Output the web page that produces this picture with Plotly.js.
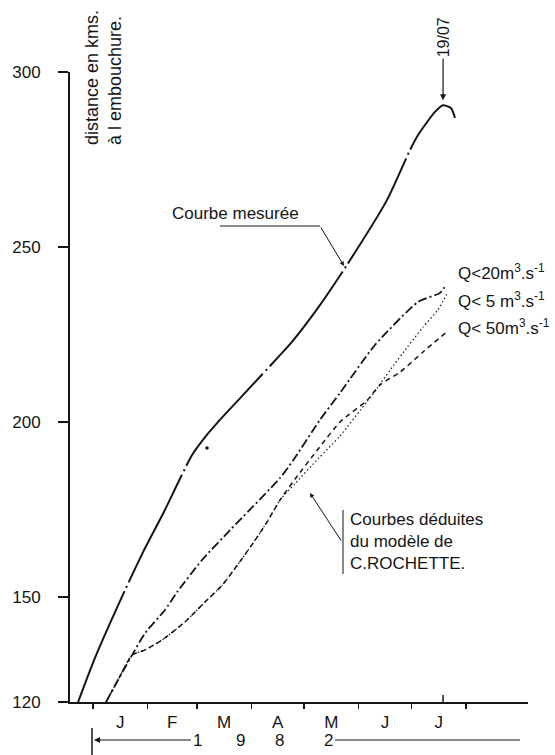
<!DOCTYPE html>
<html>
<head>
<meta charset="utf-8">
<script src="https://cdn.plot.ly/plotly-3.0.1.min.js"></script>
<style>
  html, body { margin: 0; padding: 0; background: #fff; }
  #chart { width: 555px; height: 755px; }
</style>
</head>
<body>
<div id="chart"></div>
<script>
// Days are counted from 1 January 1982 (day 0).
const monthStartDays = [0, 31, 59, 90, 120, 151, 181, 212];
const monthLetters = ['J', 'F', 'M', 'A', 'M', 'J', 'J'];
const distanceTicks = [120, 150, 200, 250, 300];
const yearDigits = ['1', '9', '8', '2'];

// Courbe mesurée (distance en km à l'embouchure)
const mesureeJour = [-8.5, 1.1, 18.2, 28.5, 40, 56.3, 63.7, 70.5, 84.7, 106.3, 113.1, 129, 144.4, 167.1, 180.2, 184.8, 194.4, 199, 203.5, 205.8];
const mesureeKm   = [120, 132.6, 152, 162.9, 174, 190.6, 195.7, 199.7, 207.4, 219.1, 222.9, 233.4, 244.9, 263.4, 277.7, 282, 288.6, 290.5, 289.7, 286.9];

// Point isolé près de la courbe mesurée
const pointJour = [64.8];
const pointKm = [192.6];

// Courbes du modèle
const q20Jour = [7.4, 14.2, 22.2, 29.6, 40.9, 47.8, 62, 77.9, 106.3, 113.7, 129, 140.4, 160.3, 184.8, 197.3, 200.7];
const q20Km   = [120, 126.3, 133.4, 139.7, 146.3, 151.4, 160.6, 169.1, 184, 189, 200.6, 208.3, 222, 234.3, 236.9, 239.1];

const q5Jour = [7.4, 14.2, 22.2, 29.6, 39.2, 52.3, 63.7, 73.3, 81.9, 91, 99, 106.3, 115, 128, 140.4, 156, 161.6, 169, 178.7, 187.6, 196, 201.5];
const q5Km   = [120, 126.3, 133.4, 134.9, 137.7, 142.9, 148.6, 153.3, 159, 165.4, 171.5, 177.7, 182.5, 189.5, 196, 206, 209.7, 214.9, 221.4, 227.1, 232, 236.9];

const q50Jour = [7.4, 14.2, 22.2, 29.6, 39.2, 52.3, 63.7, 73.3, 81.9, 91, 99, 106.3, 115, 128, 140.4, 156, 163.2, 174.7, 187.6, 200.3];
const q50Km   = [120, 126.3, 133.4, 134.9, 137.7, 142.9, 148.6, 153.3, 159, 165.4, 171.5, 177.7, 183.8, 192.3, 200, 206.3, 210.6, 214.3, 220, 225.4];

const qLabels = [
  'Q&lt;20m<sup>3</sup>.s<sup>-1</sup>',
  'Q&lt; 5 m<sup>3</sup>.s<sup>-1</sup>',
  'Q&lt; 50m<sup>3</sup>.s<sup>-1</sup>'
];

// ---- page geometry ----
const W = 555, H = 755, ML = 70, MR = 27, MT = 72, MB = 53;
const PW = W - ML - MR, PH = H - MT - MB;
const px = x => (x - ML) / PW;          // pixel column -> paper x
const py = y => (H - MB - y) / PH;      // pixel row -> paper y

const INK = '#151515';
const FONT = "'Liberation Sans', Arial, Helvetica, sans-serif";
const xRange = [-13.1, 247.3];

const monthMid = monthLetters.map((_, i) => (monthStartDays[i] + monthStartDays[i + 1]) / 2);

// peak of the measured curve (19/07)
const peakIdx = mesureeKm.indexOf(Math.max(...mesureeKm));
const peakDay = mesureeJour[peakIdx];
const peakKm = mesureeKm[peakIdx];

const traces = [
  { x: mesureeJour, y: mesureeKm, mode: 'lines', name: 'Courbe mesurée',
    line: { color: INK, width: 2, dash: '120px,4px,2px,4px', shape: 'spline', smoothing: 0.6 } },
  { x: q20Jour, y: q20Km, mode: 'lines', name: 'Q<20',
    line: { color: INK, width: 1.8, dash: '9px,3px,2px,3px', shape: 'spline', smoothing: 0.6 } },
  { x: q5Jour, y: q5Km, mode: 'lines', name: 'Q<5',
    line: { color: INK, width: 1.2, dash: '1.5px,2.5px', shape: 'spline', smoothing: 0.6 } },
  { x: q50Jour, y: q50Km, mode: 'lines', name: 'Q<50',
    line: { color: INK, width: 1.5, dash: '5px,4px', shape: 'spline', smoothing: 0.6 } },
  { x: pointJour, y: pointKm, mode: 'markers', name: 'point', xaxis: 'x2',
    marker: { color: INK, size: 3.5 } }
];

const txt = (size) => ({ family: FONT, size: size, color: INK });

const annotations = [
  // axis title, written vertically beside the axis
  { xref: 'paper', yref: 'paper', x: px(104), y: py(78), xanchor: 'center', yanchor: 'middle',
    text: 'distance en kms.<br>à l embouchure.', textangle: -90, align: 'left', showarrow: false,
    font: txt(18) },
  // 19/07 with its arrow pointing at the peak
  { xref: 'x', yref: 'y', x: peakDay, y: peakKm, text: '19/07', textangle: -90,
    showarrow: true, ax: 0, ay: -68, arrowhead: 2, arrowsize: 1, arrowwidth: 1.2,
    arrowcolor: INK, standoff: 5, font: txt(16) },
  { xref: 'paper', yref: 'paper', x: px(235), y: py(213), xanchor: 'center', yanchor: 'middle',
    text: 'Courbe mesurée', showarrow: false, font: txt(17) },
  { xref: 'paper', yref: 'paper', x: px(344), y: py(266), text: '',
    showarrow: true, ax: -24, ay: -40, arrowhead: 2, arrowsize: 0.9, arrowwidth: 1,
    arrowcolor: INK },
  { xref: 'paper', yref: 'paper', x: px(348), y: py(541), xanchor: 'left', yanchor: 'middle',
    align: 'left', text: 'Courbes déduites<br>du modèle de<br>C.ROCHETTE.',
    showarrow: false, font: txt(17) },
  { xref: 'paper', yref: 'paper', x: px(310), y: py(493), text: '',
    showarrow: true, ax: 32, ay: 49, arrowhead: 2, arrowsize: 0.9, arrowwidth: 1,
    arrowcolor: INK },
  // year under the months
  { xref: 'paper', yref: 'paper', x: px(94), y: py(740), text: yearDigits[0],
    xanchor: 'center', yanchor: 'middle',
    showarrow: true, ax: 103, ay: 0, arrowhead: 2, arrowsize: 1, arrowwidth: 1.2,
    arrowcolor: INK, font: txt(17) }
];

[240, 279, 328].forEach((xp, i) => {
  annotations.push({ xref: 'paper', yref: 'paper', x: px(xp), y: py(740),
    xanchor: 'center', yanchor: 'middle', text: yearDigits[i + 1],
    showarrow: false, font: txt(17) });
});

[272, 300, 327].forEach((yp, i) => {
  annotations.push({ xref: 'paper', yref: 'paper', x: px(456), y: py(yp), xanchor: 'left',
    yanchor: 'middle', text: qLabels[i], showarrow: false, font: txt(17) });
});

const thin = { color: INK, width: 1 };
const shapes = [
  { type: 'line', xref: 'paper', yref: 'paper', x0: px(220), x1: px(320), y0: py(226), y1: py(226), line: thin },
  { type: 'line', xref: 'paper', yref: 'paper', x0: px(343), x1: px(343), y0: py(510), y1: py(574), line: thin },
  { type: 'line', xref: 'paper', yref: 'paper', x0: px(335), x1: px(520), y0: py(740), y1: py(740), line: { color: INK, width: 1.2 } },
  { type: 'line', xref: 'paper', yref: 'paper', x0: px(92), x1: px(92), y0: py(728), y1: py(755), line: { color: INK, width: 1.5 } },
  // small upward mark on the time axis at 19/07
  { type: 'line', xref: 'x', yref: 'paper', x0: peakDay, x1: peakDay, y0: 0, y1: py(695), line: { color: INK, width: 1.5 } }
];

const layout = {
  width: W, height: H,
  margin: { l: ML, r: MR, t: MT, b: MB, pad: 0 },
  paper_bgcolor: '#fff', plot_bgcolor: '#fff',
  showlegend: false,
  font: txt(17),
  xaxis: {
    range: xRange, showline: true, linewidth: 2, linecolor: INK,
    tickmode: 'array', tickvals: monthStartDays, ticks: 'outside', ticklen: 5,
    tickwidth: 1.5, tickcolor: INK, showticklabels: false,
    showgrid: false, zeroline: false, fixedrange: true
  },
  xaxis2: {
    overlaying: 'x', anchor: 'y', side: 'bottom', range: xRange,
    tickmode: 'array', tickvals: monthMid, ticktext: monthLetters, ticks: '',
    showline: false, showgrid: false, zeroline: false, ticklabelstandoff: 8,
    tickfont: txt(17), fixedrange: true
  },
  yaxis: {
    range: [120, 300], showline: true, linewidth: 2, linecolor: INK,
    tickmode: 'array', tickvals: distanceTicks, ticks: 'outside', ticklen: 10,
    tickwidth: 1.5, tickcolor: INK, ticklabelstandoff: 14,
    tickfont: txt(17), showgrid: false, zeroline: false, fixedrange: true
  },
  annotations: annotations,
  shapes: shapes
};

Plotly.newPlot('chart', traces, layout, { staticPlot: true, displayModeBar: false });
</script>
</body>
</html>
